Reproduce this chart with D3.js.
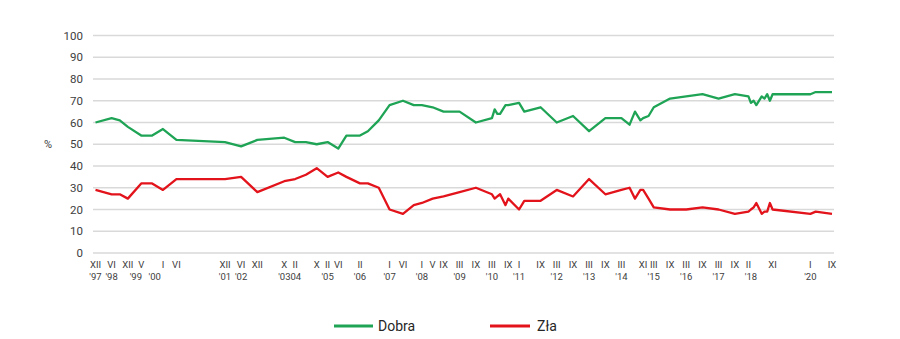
<!DOCTYPE html>
<html><head><meta charset="utf-8">
<script src="https://cdn.jsdelivr.net/npm/d3@7"></script>
<style>
html,body{margin:0;padding:0;background:#fff;}
svg{display:block;font-family:Roboto, "Liberation Sans", Arial, sans-serif;}
</style></head>
<body>
<svg id="c" width="900" height="339"></svg>
<script>
// ---- data ----
const dates = ["1997-12","1998-06","1998-09","1998-12","1999-05","1999-09","2000-01","2000-06",
 "2001-12","2002-06","2002-12","2003-10","2004-02","2004-06","2004-10","2005-02","2005-06","2005-09",
 "2006-02","2006-05","2006-09","2007-01","2007-06","2007-10","2008-01","2008-05","2008-09","2009-03",
 "2009-09","2010-03","2010-04","2010-05","2010-06","2010-08","2010-09","2011-01","2011-03","2011-09",
 "2012-03","2012-09","2013-03","2013-09","2014-03","2014-06","2014-08","2014-10","2014-11","2015-01",
 "2015-03","2015-09","2016-03","2016-09","2017-03","2017-09","2018-02","2018-03","2018-04","2018-05",
 "2018-07","2018-08","2018-09","2018-10","2018-11","2020-01","2020-03","2020-09"];
const dobra = [60,62,61,58,54,54,57,52,
 51,49,52,53,51,51,50,51,48,54,
 54,56,61,68,70,68,68,67,65,65,
 60,62,66,64,64,68,68,69,65,67,
 60,63,56,62,62,59,65,61,62,63,
 67,71,72,73,71,73,72,69,70,68,
 72,71,73,70,73,73,74,74];
const zla = [29,27,27,25,32,32,29,34,
 34,35,28,33,34,36,39,35,37,35,
 32,32,30,20,18,22,23,25,26,28,
 30,27,25,26,27,22,25,20,24,24,
 29,26,34,27,29,30,25,29,29,25,
 21,20,20,21,20,18,19,20,21,23,
 18,19,19,23,20,18,19,18];
const tickMonths = ["XII","VI","XII","V","I","VI","XII","VI","XII","X","II","X","II","VI","II","I","VI",
 "I","V","IX","III","IX","III","IX","I","IX","III","IX","III","IX","III","XI","III","IX","III","IX",
 "III","IX","II","XI","I","IX"];
const tickDates = ["1997-12","1998-06","1998-12","1999-05","2000-01","2000-06","2001-12","2002-06","2002-12",
 "2003-10","2004-02","2004-10","2005-02","2005-06","2006-02","2007-01","2007-06","2008-01","2008-05",
 "2008-09","2009-03","2009-09","2010-03","2010-09","2011-01","2011-09","2012-03","2012-09","2013-03",
 "2013-09","2014-03","2014-11","2015-03","2015-09","2016-03","2016-09","2017-03","2017-09","2018-02",
 "2018-11","2020-01","2020-09"];
const yearTexts = ["'97","'98","'99","'00","'01","'02","'0304","'05","'06","'07","'08","'09","'10","'11",
 "'12","'13","'14","'15","'16","'17","'18","'20"];
const yearDates = ["1997-12","1998-06","1999-03","1999-10","2001-12","2002-06","2003-12","2005-02","2006-02",
 "2007-01","2008-01","2009-03","2010-03","2011-01","2012-03","2013-03","2014-03","2015-03","2016-03",
 "2017-03","2018-03","2020-01"];
const yTicks = [0,10,20,30,40,50,60,70,80,90,100];
const seriesNames = ["Dobra","Zła"];
const colors = ["#1fa456","#e3131b"];

// ---- chart ----
const parse = d3.timeParse("%Y-%m");
const svg = d3.select("#c");
const x = d3.scaleTime().domain([parse("1997-12"), parse("2020-09")]).range([95.5, 832]);
const y = d3.scaleLinear().domain([0,100]).range([253, 35.5]);

// gridlines
svg.append("g").selectAll("line").data(yTicks).join("line")
  .attr("x1",93).attr("x2",834)
  .attr("y1",d=>y(d)).attr("y2",d=>y(d))
  .attr("stroke","#d9d9d9").attr("stroke-width",1.5);

// y labels
svg.append("g").selectAll("text").data(yTicks).join("text")
  .attr("x",83).attr("y",d=>y(d)).attr("dy","0.35em")
  .attr("text-anchor","end").attr("font-size",11.5).attr("fill","#404040")
  .text(d=>d);
svg.append("text").attr("x",48).attr("y",y(50)).attr("dy","0.35em")
  .attr("text-anchor","middle").attr("font-size",11).attr("fill","#404040").text("%");

// x labels
svg.append("g").selectAll("text").data(tickMonths).join("text")
  .attr("x",(d,i)=>x(parse(tickDates[i]))).attr("y",265).attr("dy","0.35em")
  .attr("text-anchor","middle").attr("font-size",9.5).attr("fill","#404040")
  .text(d=>d);
svg.append("g").selectAll("text").data(yearTexts).join("text")
  .attr("x",(d,i)=>x(parse(yearDates[i]))).attr("y",277).attr("dy","0.35em")
  .attr("text-anchor","middle").attr("font-size",9.5).attr("fill","#404040")
  .text(d=>d);

// lines
const pts = dates.map(parse);
[dobra, zla].forEach((vals,k)=>{
  const line = d3.line().x((d,i)=>x(pts[i])).y(d=>y(d));
  svg.append("path").datum(vals).attr("d",line)
    .attr("fill","none").attr("stroke",colors[k]).attr("stroke-width",2.3)
    .attr("stroke-linejoin","round");
});

// legend
const lg = [{x1:334,x2:373,tx:378},{x1:490,x2:530,tx:537}];
seriesNames.forEach((n,k)=>{
  svg.append("line").attr("x1",lg[k].x1).attr("x2",lg[k].x2).attr("y1",326).attr("y2",326)
    .attr("stroke",colors[k]).attr("stroke-width",3);
  svg.append("text").attr("x",lg[k].tx).attr("y",326).attr("dy","0.35em")
    .attr("font-size",14).attr("fill","#262626").text(n);
});
</script>
</body></html>
